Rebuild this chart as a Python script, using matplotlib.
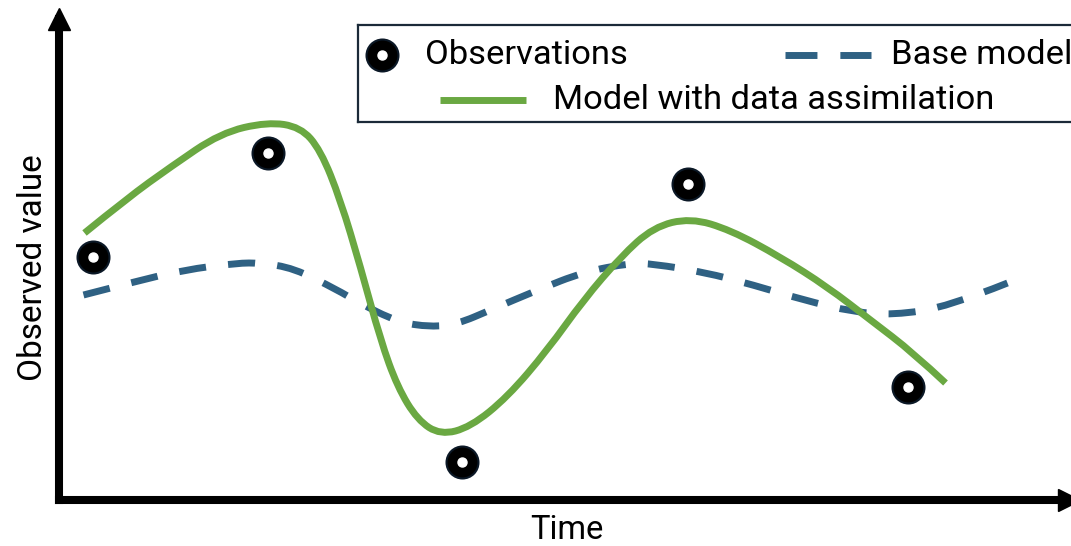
import matplotlib.pyplot as plt
from matplotlib.path import Path
from matplotlib.patches import PathPatch

plt.rcParams['font.family'] = ['Roboto', 'DejaVu Sans']

obs_time = [34, 209, 403, 629, 849]
obs_value = [243, 347, 38, 316, 113]

base_time = [25, 75, 125, 179, 202, 235, 279, 299, 339, 372, 399, 432, 479,
             525, 572, 595, 645, 695, 745, 795, 835, 889, 949]
base_value = [205, 218, 230, 237, 237, 232, 210, 198, 178, 173, 176, 190, 210,
              228, 237, 236, 228, 215, 200, 188, 185, 193, 217]

da_time = [26, 69, 112, 162, 209, 242, 262, 282, 302, 322, 339, 359, 382,
           412, 449, 489, 525, 562, 595, 632, 672, 722, 769, 812, 855, 887]
da_value = [267, 302, 333, 367, 378, 373, 350, 300, 233, 160, 113, 80, 65,
            73, 103, 150, 200, 243, 273, 282, 270, 243, 213, 180, 147, 117]

green = '#6aa842'
blue = '#2f6183'
dark = '#0b1826'


def smooth_path(xs, ys):
    # curva suave (bezier cuadrática) usando los puntos como control
    pts = list(zip(xs, ys))
    verts = [pts[0]]
    codes = [Path.MOVETO]
    for i in range(1, len(pts) - 1):
        mid = ((pts[i][0] + pts[i + 1][0]) / 2, (pts[i][1] + pts[i + 1][1]) / 2)
        if i == len(pts) - 2:
            mid = pts[-1]
        verts += [pts[i], mid]
        codes += [Path.CURVE3, Path.CURVE3]
    return Path(verts, codes)


W, H = 1071, 546
fig = plt.figure(figsize=(W / 100, H / 100), dpi=100)

# Ejes principales: el origen está en la esquina de las flechas
ax = fig.add_axes([58.5 / W, 46 / H, 1010 / W, 481.5 / H])
ax.set_xlim(0, 1010)
ax.set_ylim(0, 481.5)

base = PathPatch(smooth_path(base_time, base_value), fill=False, ec=blue,
                 lw=5, capstyle='butt')
base.set_linestyle((0, (3.9, 3.2)))
ax.add_patch(base)
ax.add_patch(PathPatch(smooth_path(da_time, da_value), fill=False, ec=green,
                       lw=5, capstyle='butt', joinstyle='round'))
ax.plot(obs_time, obs_value, 'o', ms=23, color='black', mec=dark, mew=1.5,
        zorder=5)
ax.plot(obs_time, obs_value, 'o', ms=6.5, color='white', mec='white',
        zorder=6)

# Ejes con flechas
for side in ['top', 'right']:
    ax.spines[side].set_visible(False)
for side in ['left', 'bottom']:
    ax.spines[side].set_linewidth(5.8)
    ax.spines[side].set_capstyle('projecting')
ax.plot(1, 0, '>k', ms=16.5, transform=ax.get_yaxis_transform(), clip_on=False)
ax.plot(0, 1, '^k', ms=16.5, transform=ax.get_xaxis_transform(), clip_on=False)
ax.set_xticks([])
ax.set_yticks([])

fig.text(567 / W, 1 - 530 / H, 'Time', fontsize=23.5, ha='center', va='center')
fig.text(33 / W, 1 - 268 / H, 'Observed value', fontsize=24, ha='center',
         va='center', rotation=90)

# Leyenda dibujada a mano dentro de un recuadro
lax = fig.add_axes([358 / W, 424 / H, 722 / W, 97 / H])
lax.set_xlim(0, 722)
lax.set_ylim(97, 0)
lax.set_xticks([])
lax.set_yticks([])
for s in lax.spines.values():
    s.set_color('#1b2a38')
    s.set_linewidth(1.6)

lax.plot(24, 30, 'o', ms=23, color='black', mec=dark, mew=1.5)
lax.plot(24, 30, 'o', ms=6.5, color='white', mec='white')
lax.text(67, 30, 'Observations', fontsize=24.8, va='center')

lax.plot([427, 513], [30, 30], color=blue, lw=5, dashes=(4.6, 3.3))
lax.text(533, 30, 'Base model', fontsize=24.8, va='center')

lax.plot([82, 168], [75, 75], color=green, lw=5, solid_capstyle='butt')
lax.text(195, 75, 'Model with data assimilation', fontsize=24.8, va='center')

fig.savefig('out.png', dpi=100)
